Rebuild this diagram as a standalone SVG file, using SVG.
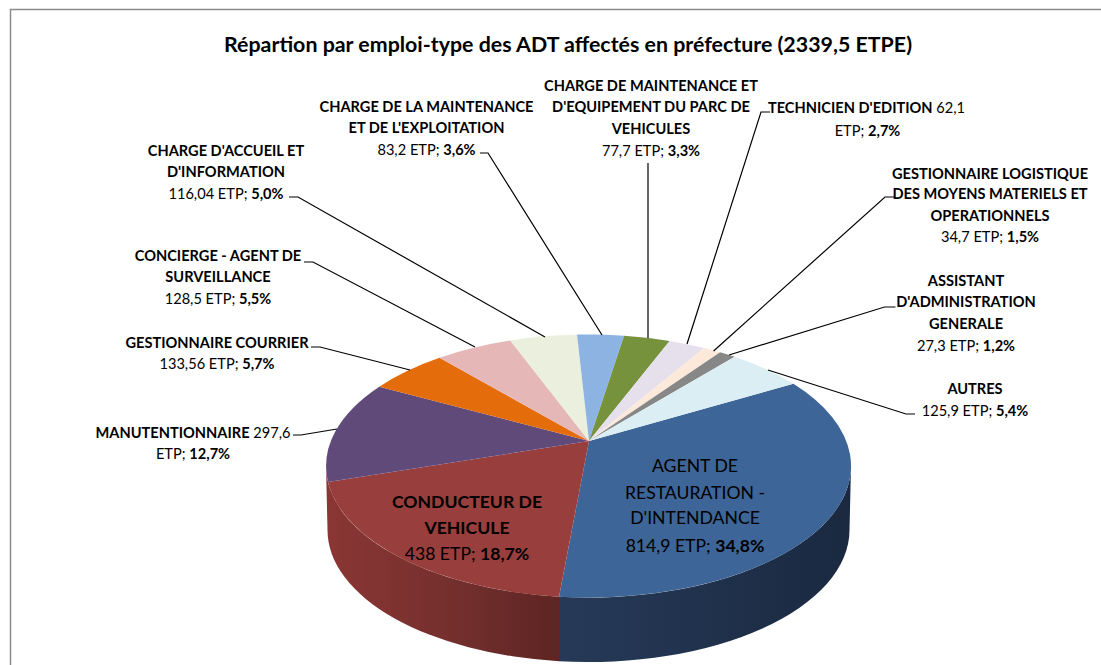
<svg xmlns="http://www.w3.org/2000/svg" width="1101" height="665" viewBox="0 0 1101 665">
<defs>
<style>
.t{font-family:Lato,"Liberation Sans",sans-serif;fill:#000;text-anchor:middle}
.ttl{font-size:20px;font-weight:bold}
.lbl{font-size:14.6px}
.in{font-size:17.6px}
.b{font-weight:bold}
.ld{fill:none;stroke:#000;stroke-width:1.2}
</style>
<linearGradient id="gRed" x1="0" y1="0" x2="1" y2="0">
<stop offset="0" stop-color="#8A3634"/>
<stop offset="0.5" stop-color="#76302E"/>
<stop offset="1" stop-color="#5E2523"/>
</linearGradient>
<linearGradient id="gBlue" x1="0" y1="0" x2="1" y2="0">
<stop offset="0" stop-color="#263A58"/>
<stop offset="1" stop-color="#1A2940"/>
</linearGradient>
</defs>
<rect x="0" y="0" width="1101" height="665" fill="#fff"/>
<path d="M10.5,665 L10.5,9.5 L1101,9.5" fill="none" stroke="#8C8C8C" stroke-width="1.5"/>
<text class="t ttl" x="568" y="52" textLength="688" lengthAdjust="spacingAndGlyphs">Répartion  par emploi-type des ADT affectés en préfecture (2339,5  ETPE)</text>

<g id="agent-restauration">
<path d="M851,466 A262.5,131.5 0 0 1 559,596.7 L559,661.2 A261,132 0 0 0 849.5,530 Z" fill="url(#gBlue)"/>
<path d="M589,441 L793.4,383.8 A262.5,131.5 0 0 1 559,596.7 Z" fill="#3E6597"/>
<text class="t in" x="695" y="471.5">AGENT DE</text>
<text class="t in" x="695" y="498.5">RESTAURATION  -</text>
<text class="t in" x="695" y="523.5">D'INTENDANCE</text>
<text class="t in" x="695" y="551.5">814,9 ETP; <tspan class="b">34,8%</tspan></text>
</g>
<g id="conducteur">
<path d="M559,596.7 A262.5,131.5 0 0 1 326,466 L327.5,530 A261,132 0 0 0 559,661.2 Z" fill="url(#gRed)"/>
<path d="M589,441 L559,596.7 A262.5,131.5 0 0 1 328,482 Z" fill="#983E3C"/>
<text class="t in b" x="467" y="507.5">CONDUCTEUR DE</text>
<text class="t in b" x="467" y="533.5">VEHICULE</text>
<text class="t in" x="467" y="559.5">438 ETP;  <tspan class="b">18,7%</tspan></text>
</g>
<g id="manutentionnaire">
<path d="M589,441 L328,482 A262.5,131.5 0 0 1 379.3,386.7 Z" fill="#5F4A7A"/>
<text class="t lbl" x="193" y="437.5"><tspan class="b">MANUTENTIONNAIRE</tspan> 297,6</text>
<text class="t lbl" x="193" y="459">ETP; <tspan class="b">12,7%</tspan></text>
</g>
<g id="gestionnaire-courrier">
<path d="M589,441 L379.3,386.7 A262.5,131.5 0 0 1 439.5,357.8 Z" fill="#E46C0A"/>
<text class="t lbl b" x="217" y="347.5">GESTIONNAIRE COURRIER</text>
<text class="t lbl" x="217" y="369">133,56 ETP; <tspan class="b">5,7%</tspan></text>
</g>
<g id="concierge">
<path d="M589,441 L439.5,357.8 A262.5,131.5 0 0 1 510.3,340.5 Z" fill="#E5B8B7"/>
<text class="t lbl b" x="218" y="260.5">CONCIERGE - AGENT DE</text>
<text class="t lbl b" x="218" y="282">SURVEILLANCE</text>
<text class="t lbl" x="218" y="303.5">128,5 ETP; <tspan class="b">5,5%</tspan></text>
</g>
<g id="accueil">
<path d="M589,441 L510.3,340.5 A262.5,131.5 0 0 1 577,334.6 Z" fill="#EBF0DE"/>
<text class="t lbl b" x="226" y="155.5">CHARGE D'ACCUEIL ET</text>
<text class="t lbl b" x="226" y="177">D'INFORMATION</text>
<text class="t lbl" x="226" y="198.5">116,04 ETP; <tspan class="b">5,0%</tspan></text>
</g>
<g id="maintenance-exploitation">
<path d="M589,441 L577,334.6 A262.5,131.5 0 0 1 624.1,335.7 Z" fill="#8DB3E2"/>
<text class="t lbl b" x="426.5" y="111.5">CHARGE DE LA MAINTENANCE</text>
<text class="t lbl b" x="426.5" y="133">ET DE L'EXPLOITATION</text>
<text class="t lbl" x="426.5" y="154.5">83,2 ETP; <tspan class="b">3,6%</tspan></text>
</g>
<g id="maintenance-vehicules">
<path d="M589,441 L624.1,335.7 A262.5,131.5 0 0 1 669.6,340.9 Z" fill="#76923C"/>
<text class="t lbl b" x="651" y="90.5">CHARGE DE MAINTENANCE ET</text>
<text class="t lbl b" x="651" y="112">D'EQUIPEMENT DU PARC DE</text>
<text class="t lbl b" x="651" y="133.5">VEHICULES</text>
<text class="t lbl" x="651" y="156">77,7 ETP; <tspan class="b">3,3%</tspan></text>
</g>
<g id="technicien-edition">
<path d="M589,441 L669.6,340.9 A262.5,131.5 0 0 1 704,347.9 Z" fill="#E5E0EC"/>
<text class="t lbl" x="866.5" y="112.5"><tspan class="b">TECHNICIEN D'EDITION</tspan> 62,1</text>
<text class="t lbl" x="867.5" y="135.5">ETP; <tspan class="b">2,7%</tspan></text>
</g>
<g id="gestionnaire-logistique">
<path d="M589,441 L704,347.9 A262.5,131.5 0 0 1 720.1,352.2 Z" fill="#FCE9D9"/>
<text class="t lbl b" x="990" y="178.5">GESTIONNAIRE LOGISTIQUE</text>
<text class="t lbl b" x="990" y="199">DES MOYENS MATERIELS ET</text>
<text class="t lbl b" x="990" y="220.5">OPERATIONNELS</text>
<text class="t lbl" x="990" y="242">34,7 ETP; <tspan class="b">1,5%</tspan></text>
</g>
<g id="assistant-administration">
<path d="M589,441 L720.1,352.2 A262.5,131.5 0 0 1 734.7,356.8 Z" fill="#878787"/>
<text class="t lbl b" x="966" y="286">ASSISTANT</text>
<text class="t lbl b" x="966" y="307">D'ADMINISTRATION</text>
<text class="t lbl b" x="966" y="329">GENERALE</text>
<text class="t lbl" x="966" y="350.5">27,3 ETP; <tspan class="b">1,2%</tspan></text>
</g>
<g id="autres">
<path d="M589,441 L734.7,356.8 A262.5,131.5 0 0 1 793.4,383.8 Z" fill="#DAEEF3"/>
<text class="t lbl b" x="975" y="393.5">AUTRES</text>
<text class="t lbl" x="975" y="415.5">125,9 ETP; <tspan class="b">5,4%</tspan></text>
</g>

<g id="connectors">
<polyline class="ld" points="293,435 301,435 337,429"/>
<polyline class="ld" points="311,347 320,347 410,370"/>
<polyline class="ld" points="304,262 313,262 475,347"/>
<polyline class="ld" points="289,197 298,197 545,337"/>
<polyline class="ld" points="480,153 488,153 602,335"/>
<polyline class="ld" points="648,163 648,338"/>
<polyline class="ld" points="770,112 761,112 687,344"/>
<polyline class="ld" points="894,197 885,197 713.6,351"/>
<polyline class="ld" points="895.5,307 884.5,307 729,355"/>
<polyline class="ld" points="915,414 906,414 768,370"/>
</g>
</svg>
